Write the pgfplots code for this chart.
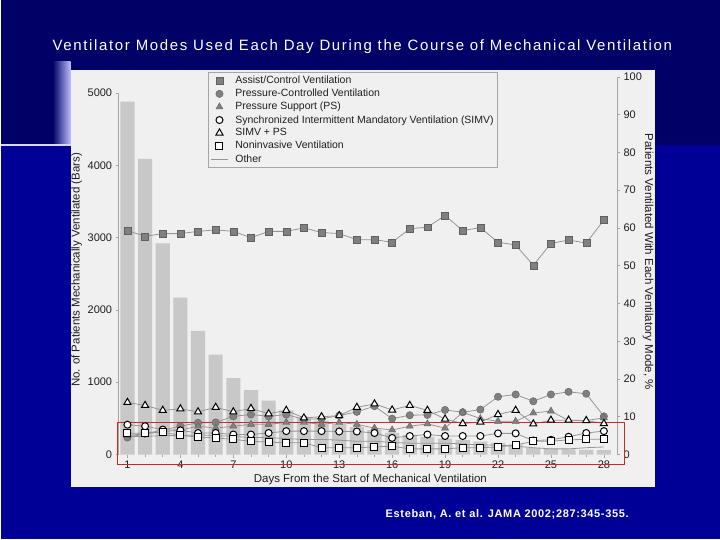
\documentclass[border=0pt]{standalone}
\usepackage{fontspec}
\setmainfont{Liberation Sans}
\usepackage{pgfplots}
\usepackage{pgfplotstable}
\pgfplotsset{compat=1.18}

\definecolor{navytop}{RGB}{0,0,102}
\definecolor{navylow}{RGB}{0,0,150}
\definecolor{panel}{RGB}{240,240,240}
\definecolor{bargray}{RGB}{200,200,200}
\definecolor{axgray}{RGB}{165,165,165}
\definecolor{mkgray}{RGB}{128,128,128}
\definecolor{lngray}{RGB}{150,150,150}
\definecolor{ink}{RGB}{30,30,30}
\definecolor{boxred}{RGB}{205,40,40}

% day, patients ventilated (bars), % of patients per mode
\pgfplotstableread{
d  bar   ac    pc    ps    simv  simvps niv  other
1  4880  59.3  4.5   5.0   7.9   13.8   5.6  4.8
2  4090  57.8  5.5   5.5   7.5   13.0   5.7  4.8
3  2920  58.5  6.5   6.0   6.6   11.7   5.9  5.0
4  2170  58.5  7.5   6.5   6.4   12.1   5.1  5.0
5  1710  59.1  8.4   7.5   5.7   11.3   4.6  5.2
6  1380  59.5  8.5   7.0   5.7   12.5   4.4  5.0
7  1055  59.1  10.1  7.5   5.3   11.3   4.0  4.8
8  890   57.4  10.6  8.0   5.3   12.2   3.5  4.5
9  745   59.1  10.1  8.0   5.7   10.8   3.3  4.5
10 610   59.1  10.6  8.5   6.2   11.7   3.1  4.2
11 520   60.0  9.3   8.5   6.2   9.7    3.1  4.0
12 470   58.8  9.5   8.0   6.2   10.0   1.8  4.0
13 420   58.5  10.3  8.5   6.1   10.3   1.8  3.8
14 380   56.9  11.3  8.0   6.1   12.5   1.8  3.5
15 340   56.9  12.8  7.0   5.7   13.4   2.0  3.5
16 300   56.2  9.5   6.5   4.4   11.8   2.2  3.2
17 270   59.8  10.4  7.5   4.9   13.0   1.5  3.0
18 245   60.2  10.5  8.1   5.3   11.7   1.5  3.0
19 220   63.3  11.8  7.0   4.9   9.4    1.5  3.0
20 200   59.3  11.2  11.2  4.9   8.2    1.8  2.8
21 180   60.1  11.9  9.5   4.9   8.6    1.8  2.5
22 160   56.2  15.3  8.8   5.6   10.6   2.0  2.5
23 140   55.5  15.9  8.8   5.6   11.7   2.5  2.2
24 90    50.1  14.1  11.0  3.7   8.1    3.5  1.8
25 80    55.9  15.9  11.5  3.9   9.1    3.5  1.5
26 70    56.8  16.6  9.0   4.7   9.1    3.9  1.5
27 65    56.0  16.1  9.0   5.7   9.0    4.0  1.8
28 60    62.1  10.1  9.7   6.2   8.2    4.1  2.0
}\modes

\pgfplotsset{
  frame/.style={
    at={(118pt,85pt)}, anchor=south west,
    scale only axis, width=499pt, height=378pt,
    xmin=0.5, xmax=28.75, ymin=0,
    clip=false,
    tick style={axgray, line width=0.6pt}, major tick length=3pt,
    tick align=outside,
    ticklabel style={font=\fontsize{11}{13}\selectfont, text=ink},
    label style={font=\fontsize{11.5}{13}\selectfont, text=ink},
    /pgf/number format/assume math mode=true,
    /pgf/number format/1000 sep={},
    axis x line*=bottom,
  },
}

\begin{document}
\begin{tikzpicture}
% slide background
\fill[navylow] (0pt,0pt) rectangle (720pt,540pt);
\fill[navytop] (0pt,395pt) rectangle (720pt,540pt);
\shade[left color=navytop, right color=blue!25!white] (52pt,395pt) rectangle (70pt,478pt);
\draw[blue!15!white, line width=1.5pt] (0pt,395pt) -- (70pt,395pt);
\fill[panel] (70pt,52pt) rectangle (655pt,470pt);

\node[white, font=\fontsize{15}{18}\selectfont\addfontfeatures{LetterSpace=11}] at (362pt,493pt) {Ventilator Modes Used Each Day During the Course of Mechanical Ventilation};
\node[white, font=\fontsize{11}{13}\selectfont\bfseries\addfontfeatures{LetterSpace=6}] at (507pt,25pt) {Esteban, A. et al. JAMA 2002;287:345-355.};

% left axis: number of patients (bars)
\begin{axis}[frame,
  ymax=5222,
  axis y line*=left,
  axis line style={draw=none},
  xtick={1,4,...,28}, minor xtick={1,...,28},
  minor tick length=2pt,
  ytick={0,1000,...,5000},
  xlabel={Days From the Start of Mechanical Ventilation},
  xlabel style={at={(axis description cs:0.505,-0.066)}, anchor=center},
  ylabel={No. of Patients Mechanically Ventilated (Bars)},
  ylabel style={at={(axis description cs:-0.084,0.489)}, anchor=center},
]
\addplot[ybar, bar width=0.8, fill=bargray, draw=none] table[x=d,y=bar]{\modes};
\draw[axgray, line width=0.8pt] (axis cs:0.5,0) -- (axis cs:0.5,5000);
\end{axis}

% right axis: percentage of patients per mode
\begin{axis}[frame,
  ymax=100,
  axis y line*=right,
  x axis line style={draw=none},
  y axis line style={axgray, line width=0.8pt},
  xtick=\empty,
  ytick={0,10,...,100},
  ylabel={Patients Ventilated With Each Ventilatory Mode, \%},
  ylabel style={at={(axis description cs:1.062,0.51)}, anchor=center, rotate=180},
  legend style={at={(0.18,1.013)}, anchor=north west, fill=panel, draw=axgray,
    font=\fontsize{10.5}{12}\selectfont,
    nodes={font=\fontsize{10.5}{12}\selectfont, text=ink},
    row sep=0pt, column sep=5pt, inner sep=2pt,
    legend cell align=left},
]
\addplot[lngray, line width=0.8pt, forget plot] table[x=d,y=other]{\modes};
\addplot[lngray, line width=0.8pt, forget plot] table[x=d,y=ac]{\modes};
\addplot[lngray, line width=0.8pt, forget plot] table[x=d,y=pc]{\modes};
\addplot[lngray, line width=0.8pt, forget plot] table[x=d,y=ps]{\modes};
\addplot[lngray, line width=0.8pt, forget plot] table[x=d,y=simv]{\modes};
\addplot[lngray, line width=0.8pt, forget plot] table[x=d,y=simvps]{\modes};
\addplot[lngray, line width=0.8pt, forget plot] table[x=d,y=niv]{\modes};

\addplot[only marks, mark=square*, mark size=3.5,
  mark options={fill=mkgray, draw=mkgray!75!black, line width=0.4pt}] table[x=d,y=ac]{\modes};
\addlegendentry{Assist/Control Ventilation}
\addplot[only marks, mark=*, mark size=3.7,
  mark options={fill=mkgray, draw=mkgray!75!black, line width=0.4pt}] table[x=d,y=pc]{\modes};
\addlegendentry{Pressure-Controlled Ventilation}
\addplot[only marks, mark=triangle*, mark size=4.1,
  mark options={fill=mkgray, draw=mkgray!75!black, line width=0.4pt}] table[x=d,y=ps]{\modes};
\addlegendentry{Pressure Support (PS)}
\addplot[only marks, mark=*, mark size=3.5,
  mark options={fill=white, draw=black, line width=1pt}] table[x=d,y=simv]{\modes};
\addlegendentry{Synchronized Intermittent Mandatory Ventilation (SIMV)}
\addplot[only marks, mark=triangle*, mark size=4.1,
  mark options={fill=white, draw=black, line width=1pt}] table[x=d,y=simvps]{\modes};
\addlegendentry{SIMV + PS}
\addplot[only marks, mark=square*, mark size=3.5,
  mark options={fill=white, draw=black, line width=1pt}] table[x=d,y=niv]{\modes};
\addlegendentry{Noninvasive Ventilation}
\addlegendimage{lngray, line width=0.8pt}
\addlegendentry{Other}

% highlighted low-percentage band
\draw[boxred, line width=1pt] (axis cs:0.45,-2.6) rectangle (axis cs:29.18,8.5);
\end{axis}
\end{tikzpicture}
\end{document}
